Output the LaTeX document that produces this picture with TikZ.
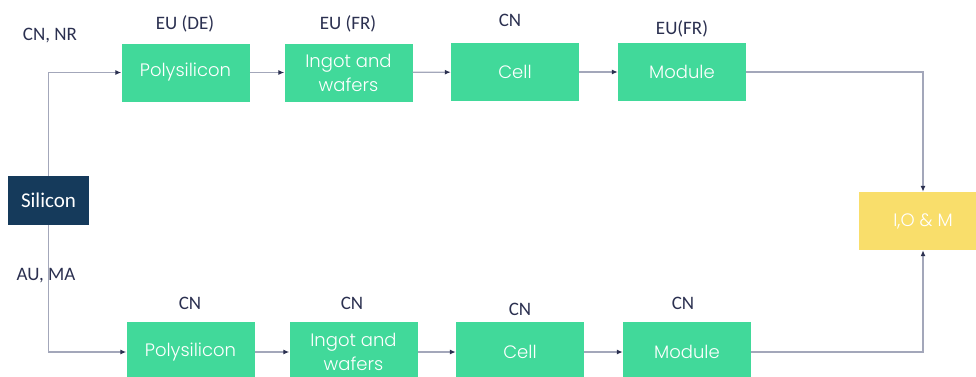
\documentclass[tikz,border=0pt]{standalone}
\usepackage{fontspec}
\setmainfont{Carlito}
\newfontfamily\boxfont{Poppins}[UprightFont={* Light}]
\usetikzlibrary{arrows.meta}

\definecolor{gruen}{HTML}{41D99A}
\definecolor{dunkelblau}{HTML}{153A5B}
\definecolor{gelb}{HTML}{F9DE6B}
\definecolor{schrift}{HTML}{2B3050}
\definecolor{linie}{HTML}{A3A7BA}

\begin{document}
\begin{tikzpicture}[x=1pt, y=-1pt,
    kasten/.style={fill=gruen, text=white, minimum width=128pt, minimum height=58pt,
        inner sep=0pt, align=center, font=\boxfont\fontsize{18}{24}\selectfont},
    land/.style={text=schrift, font=\fontsize{19}{21}\selectfont},
    pfeil/.style={draw=linie, line width=1.3pt, -{Latex[length=6pt,width=5pt,color=schrift]}}]
    \useasboundingbox (0,0) rectangle (976,376);

    % Ausgang links
    \node[fill=dunkelblau, text=white, minimum width=81pt, minimum height=49pt,
        font=\fontsize{21}{23}\selectfont] (sil) at (48.5,200.5) {Silicon};

    % Obere Kette
    \node[kasten] (poly1) at (185.5,72.5) {Polysilicon};
    \node[kasten] (ingot1) at (348.5,72.5) {Ingot and\\wafers};
    \node[kasten] (cell1) at (515,72) {Cell};
    \node[kasten] (mod1) at (682,72) {Module};

    % Untere Kette
    \node[kasten, minimum height=60pt] (poly2) at (190.5,352) {Polysilicon};
    \node[kasten, minimum height=60pt] (ingot2) at (353.5,352) {Ingot and\\wafers};
    \node[kasten, minimum height=60pt] (cell2) at (520,352) {Cell};
    \node[kasten, minimum height=60pt] (mod2) at (687,352) {Module};

    % Ziel rechts
    \node[fill=gelb, text=white, minimum width=128pt, minimum height=58pt,
        font=\boxfont\fontsize{18}{20}\selectfont] (iom) at (923,221) {I,O \& M};

    % Laender
    \node[land] (l0) at (50,36) {CN, NR};
    \node[land] (l1) at (185,24) {EU (DE)};
    \node[land] (l2) at (348,24) {EU (FR)};
    \node[land] (l3) at (510,20) {CN};
    \node[land] (l4) at (682,29) {EU(FR)};
    \node[land] (l5) at (46,276) {AU, MA};
    \node[land] (l6) at (190,303) {CN};
    \node[land] (l7) at (352,303) {CN};
    \node[land] (l8) at (520,309) {CN};
    \node[land] (l9) at (683,303) {CN};

    % Verbindungen
    \draw[pfeil] (sil.north) |- (poly1.west);
    \draw[pfeil] (sil.south) |- (poly2.west);
    \draw[pfeil] (poly1) -- (ingot1);
    \draw[pfeil] (ingot1) -- (cell1);
    \draw[pfeil] (cell1) -- (mod1);
    \draw[pfeil] (poly2) -- (ingot2);
    \draw[pfeil] (ingot2) -- (cell2);
    \draw[pfeil] (cell2) -- (mod2);
    \draw[pfeil] (mod1.east) -| (iom.north);
    \draw[pfeil] (mod2.east) -| (iom.south);
\end{tikzpicture}
\end{document}
